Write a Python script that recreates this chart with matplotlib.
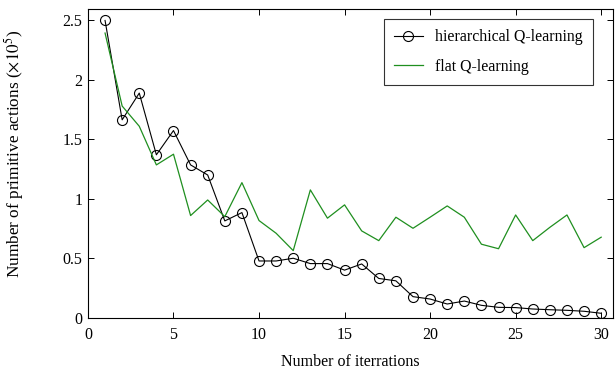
import numpy as np
import matplotlib
matplotlib.use('Agg')
import matplotlib.pyplot as plt

plt.rcParams['font.family'] = ['Liberation Serif', 'DejaVu Serif']
plt.rcParams['mathtext.fontset'] = 'stix'

iterations = list(range(1, 31))
hier_q = [2.50, 1.664, 1.889, 1.37, 1.574, 1.285, 1.20, 0.814, 0.884, 0.477,
          0.477, 0.50, 0.455, 0.455, 0.40, 0.452, 0.33, 0.31, 0.177, 0.157,
          0.115, 0.14, 0.104, 0.087, 0.085, 0.073, 0.067, 0.062, 0.054, 0.037]
flat_q = [2.394, 1.78, 1.61, 1.285, 1.375, 0.859, 0.99, 0.85, 1.136, 0.817,
          0.71, 0.564, 1.075, 0.837, 0.949, 0.73, 0.648, 0.845, 0.752, 0.845,
          0.94, 0.845, 0.618, 0.58, 0.864, 0.648, 0.76, 0.864, 0.589, 0.677]
xticks = [0, 5, 10, 15, 20, 25, 30]
yticks = [0, 0.5, 1, 1.5, 2, 2.5]
ytick_labels = ['0', '0.5', '1', '1.5', '2', '2.5']

fig = plt.figure(figsize=(6.15, 3.72), dpi=100)
ax = fig.add_axes([0.143, 0.146, 0.854, 0.831])

ax.plot(iterations, hier_q, color='black', lw=0.8, marker='o', ms=7.2,
        mfc='none', mec='black', mew=0.8, label='hierarchical Q-learning')
ax.plot(iterations, flat_q, color='#1f8f1f', lw=0.9, label='flat Q-learning')

ax.set_xlim(0, 30.7)
ax.set_ylim(0, 2.6)
ax.set_xticks(xticks)
ax.set_yticks(yticks)
ax.set_yticklabels(ytick_labels)
ax.tick_params(direction='in', top=True, right=True, labelsize=11.5, length=4, width=0.7)
ax.tick_params(axis='x', pad=6.5)
ax.tick_params(axis='y', pad=4)
for s in ax.spines.values():
    s.set_linewidth(0.8)

ax.set_xlabel('Number of iterrations', fontsize=11.5, labelpad=8)
ax.set_ylabel(r'Number of primitive actions ($\times 10^5$)', fontsize=12.4)
ax.yaxis.set_label_coords(-0.118, 0.53)

leg = ax.legend(loc='upper right', bbox_to_anchor=(0.962, 0.966), borderaxespad=0,
                fontsize=11.4, frameon=True, fancybox=False, edgecolor='black',
                handlelength=1.8, handletextpad=0.8, borderpad=0.65, labelspacing=0.85)
leg.get_frame().set_linewidth(0.8)

fig.savefig('out.png', dpi=100)
